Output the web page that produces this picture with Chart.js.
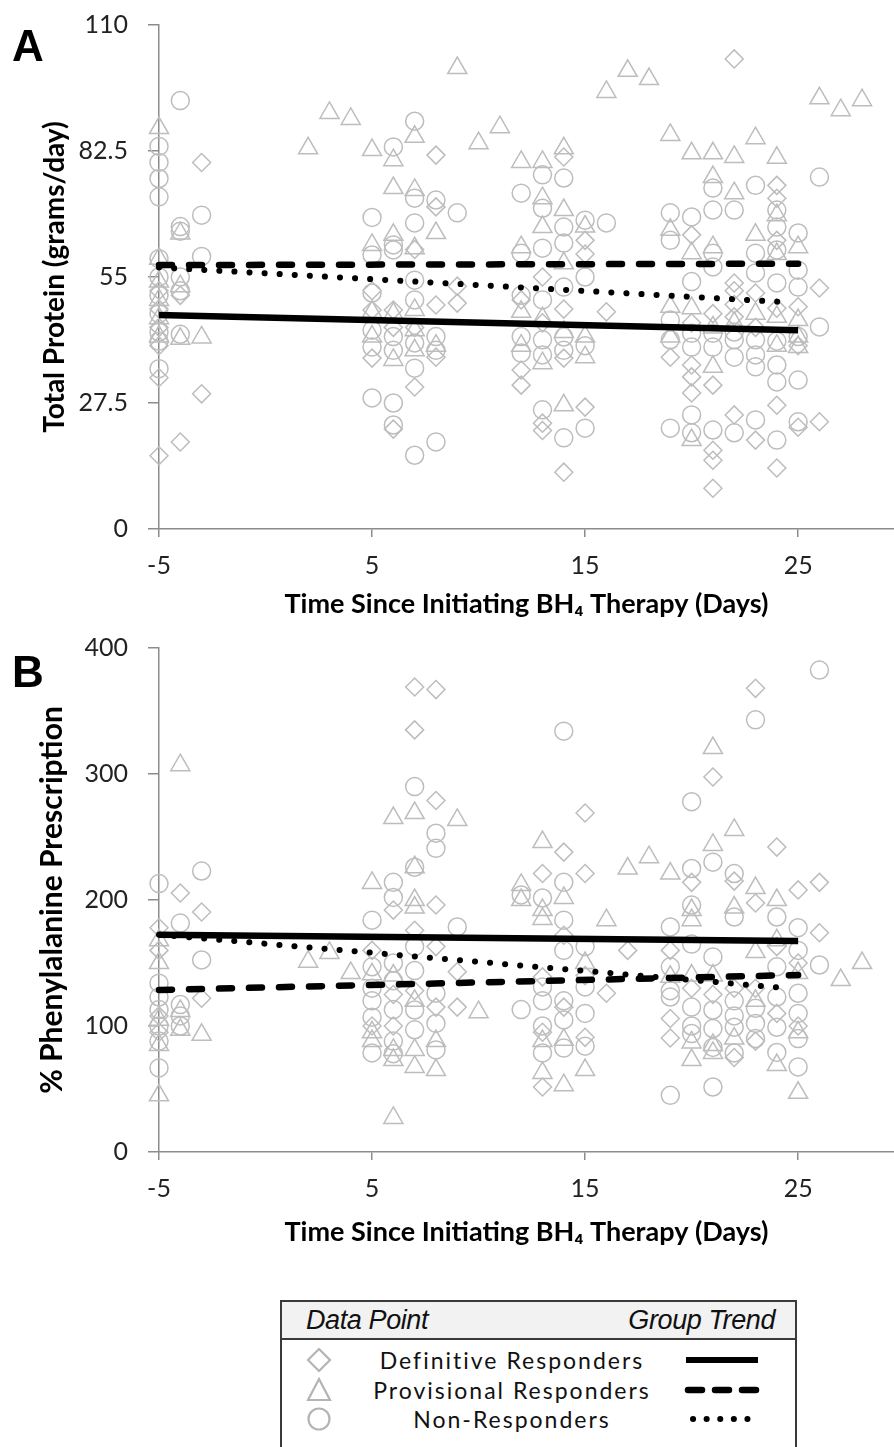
<!DOCTYPE html>
<html>
<head>
<meta charset="utf-8">
<script src="https://cdn.jsdelivr.net/npm/chart.js@4.4.1/dist/chart.umd.min.js"></script>
<style>
  body { margin: 0; width: 894px; height: 1447px; background: #fff; position: relative; overflow: hidden; }
  canvas { position: absolute; left: 0; }
  #chartA { top: 0; }
  #chartB { top: 620px; }
  .panel { position: absolute; left: 12px; font: bold 44px "Liberation Sans", Arial, sans-serif; line-height: 44px; color: #000; }
  #legend { position: absolute; left: 280px; top: 1300px; width: 513px; height: 160px; border: 2px solid #3a3a3a; font-family: Lato, sans-serif; }
  #legend .head { height: 36px; border-bottom: 2px solid #3a3a3a; background: #f2f2f2; position: relative;
    font: italic 27px "Liberation Sans", Arial, sans-serif; letter-spacing: -0.4px; color: #111; }
  #legend .head span { position: absolute; top: 3px; }
  #legend .row { position: absolute; left: 0; width: 513px; height: 30px; }
  #legend .row svg { position: absolute; top: 0; }
  #legend .lbl { position: absolute; left: 60px; width: 340px; text-align: center; top: 1px; font-size: 23px; letter-spacing: 2px; color: #111; }
</style>
</head>
<body>
<canvas id="chartA" width="894" height="620"></canvas>
<canvas id="chartB" width="894" height="640"></canvas>
<div class="panel" style="top:24px">A</div>
<div class="panel" style="top:650px">B</div>

<div id="legend">
  <div class="head"><span style="left:24px">Data Point</span><span style="right:20px">Group Trend</span></div>
  <div class="row" style="top:43px">
    <svg width="513" height="30"><path d="M37 4 L48 15 L37 26 L26 15 Z" fill="none" stroke="#b4b4b4" stroke-width="2.2"/>
      <line x1="404" y1="15" x2="476" y2="15" stroke="#000" stroke-width="6"/></svg>
    <span class="lbl">Definitive Responders</span>
  </div>
  <div class="row" style="top:73px">
    <svg width="513" height="30"><path d="M37 4 L48 25 L26 25 Z" fill="none" stroke="#b4b4b4" stroke-width="2.2"/>
      <line x1="406" y1="15" x2="480" y2="15" stroke="#000" stroke-width="6.5" stroke-dasharray="14 13" stroke-linecap="round"/></svg>
    <span class="lbl">Provisional Responders</span>
  </div>
  <div class="row" style="top:102px">
    <svg width="513" height="30"><circle cx="37" cy="15" r="10.5" fill="none" stroke="#b4b4b4" stroke-width="2.2"/>
      <line x1="411" y1="15" x2="472" y2="15" stroke="#000" stroke-width="6" stroke-dasharray="0.1 13.5" stroke-linecap="round"/></svg>
    <span class="lbl">Non-Responders</span>
  </div>
</div>

<script>
// days since initiating therapy, with tick labels
const dayTicks = [-5, 5, 15, 25];
const proteinTicks = [0, 27.5, 55, 82.5, 110];
const pheTicks = [0, 100, 200, 300, 400];

// panel A: total protein (g/day), [day, values]
const proteinDefinitive = [
  [-5, [16, 33, 40, 44, 48, 52]], [-4, [19, 51]], [-3, [80, 29.5]],
  [5, [47.8, 37.3, 52]], [6, [47.8, 44, 21.8]], [7, [61, 31, 44]], [8, [81.6, 70.3, 48.9, 37.5]], [9, [49.3, 53]],
  [12, [50, 34.7, 31.4]], [13, [55, 45, 23.1, 21.5]], [14, [81.2, 37.3, 12.4, 48]], [15, [63, 26.6, 60]], [16, [47.4]],
  [19, [37.5]], [20, [64.2, 35.8, 33.2, 29.7, 45]], [21, [31.4, 17.2, 15, 8.9, 47]], [22, [102.6, 53.7, 52, 46.3, 49, 24.9]],
  [23, [51.5, 19.4, 44]], [24, [75, 72.2, 63, 48.2, 27, 13.3]], [25, [48.5, 22.2, 40]], [26, [52.6, 23.4]]
];
const proteinProvisional = [
  [-5, [87.5, 59, 54, 50, 46, 42]], [-4, [64.5, 53, 41.5]], [-3, [41.8]],
  [2, [83.1]], [3, [90.8]], [4, [89.5]],
  [5, [82.7, 62, 47.4, 42]], [6, [80.5, 74.4, 64.2, 47, 36.9]], [7, [85.6, 74, 61.3, 47.8, 43.4, 39]], [8, [64.6, 40]],
  [9, [100.6]], [10, [84.2]], [11, [87.7]],
  [12, [80.1, 61.5, 47.4, 40]], [13, [80.1, 72.2, 65.9, 46, 36.2]], [14, [83.1, 69.6, 58, 43, 27]], [15, [66, 42, 37.5]],
  [16, [95.4]], [17, [100]], [18, [98.2]],
  [19, [86, 65.3, 48.5, 42]], [20, [82, 60.2, 48.2, 19.4]], [21, [82, 76.8, 61.5, 44, 35.4]], [22, [81.2, 73.3, 45]],
  [23, [85.3, 64.2, 47]], [24, [81, 68.5, 60, 46.3, 40]], [25, [61.5, 45.6, 39.7, 42]],
  [26, [94]], [27, [91.4]], [28, [93.6]]
];
const proteinNon = [
  [-5, [83.5, 80, 76.5, 72.5, 59, 55, 51, 47, 43, 41, 35]], [-4, [93.5, 66, 65, 55, 52, 42.5]], [-3, [68.5, 59.5]],
  [5, [68, 59.8, 51.5, 43.4, 39.7, 28.6]], [6, [83.4, 62, 60.9, 42, 39, 27.5, 22.7]],
  [7, [89, 72.2, 66.8, 54.3, 50, 40.6, 35.1, 16.1]], [8, [71.8, 42, 39, 19]], [9, [69]],
  [12, [73.3, 60.2, 51, 42, 38.4]], [13, [77.3, 70, 61.3, 50, 41.3, 38, 26]], [14, [76.6, 65.9, 62.4, 52.8, 41.9, 39, 19.9]],
  [15, [67.4, 55, 40, 22]], [16, [66.8]],
  [19, [69, 63, 45.6, 41.3, 22]], [20, [68.1, 54, 42.7, 39.7, 24.9, 21]], [21, [74.4, 69.6, 60.2, 57.2, 42.7, 39.7, 21.6]],
  [22, [69.6, 43, 41.3, 37.5, 21]], [23, [75, 60.2, 55.9, 41.3, 38, 35.4, 23.8]],
  [24, [69.6, 65.9, 60.9, 53.7, 41, 35.8, 32.1, 19.4]], [25, [64.6, 56.5, 52.8, 42, 32.5, 23.4]], [26, [76.8, 44.1]]
];

// panel B: % phenylalanine prescription, [day, values]
const pheDefinitive = [
  [-5, [178, 160, 108, 95]], [-4, [205.6]], [-3, [190.5, 122]],
  [5, [160, 100]], [6, [192, 125, 100]], [7, [369, 335, 176, 128]], [8, [367, 279, 196, 163, 115]], [9, [143, 115]],
  [13, [221, 139, 51.6, 95]], [14, [238, 172, 115]], [15, [269, 221, 140, 91]], [16, [126]], [17, [160]],
  [19, [106, 90.5, 160]], [20, [214, 130]], [21, [297.6, 125]], [22, [215, 130, 75]], [23, [368, 197.6, 130, 88]],
  [24, [242, 163, 110]], [25, [208, 150, 100]], [26, [214, 174]]
];
const pheProvisional = [
  [-5, [168, 150, 105, 85, 45]], [-4, [307, 112, 97]], [-3, [93]],
  [2, [151]], [3, [158]], [4, [142]],
  [5, [213.5, 141, 95, 88]], [6, [265, 140, 81, 73, 27]], [7, [269, 226, 200, 194, 120, 81, 67.5]], [8, [88, 65]],
  [9, [263.5]], [10, [111]], [12, [212, 200]],
  [13, [246, 192, 185, 88, 62.7]], [14, [201.6, 89, 53]], [15, [150, 65]], [16, [184]], [17, [225]], [18, [234]],
  [19, [221, 139]], [20, [192, 184, 140, 87, 73]], [21, [320.6, 243.7, 140, 85, 78.6]], [22, [255.6, 194, 90]],
  [23, [209.5, 158.7, 120]], [24, [200, 168, 69]], [25, [142, 95, 47]], [27, [136.5]], [28, [150]]
];
const pheNon = [
  [-5, [213, 134, 123, 113, 100, 88, 66.7]], [-4, [181.7, 117, 108, 100]], [-3, [223, 152.4]],
  [5, [184, 147, 130, 120, 107, 78.6]], [6, [214, 202, 150, 136, 113, 88, 78]], [7, [290, 226, 163, 144, 112.7, 97]],
  [8, [253, 241, 126, 102, 81]], [9, [178.6]], [12, [204, 113]],
  [13, [201.6, 131, 120, 100, 78.6]], [14, [334, 214, 184, 160, 120, 104.8, 82.5]], [15, [163, 131, 110, 84]],
  [19, [178.6, 147, 128, 123, 45]], [20, [278, 225, 196, 165, 115, 100, 94]], [21, [230, 154.8, 112.7, 98, 83, 51.6]],
  [22, [221, 186.5, 120, 108, 99, 78.6]], [23, [343, 114, 102, 90]], [24, [186.5, 147, 123, 99, 79]],
  [25, [178, 160, 126, 110, 90, 67.5]], [26, [382.5, 148.4]]
];

// group trend lines: start/end days and fitted values
const trendDays = [-5, 25];
const nonTrendDays = [-5, 24.5];
const proteinTrendDef = [46.7, 43.4];
const proteinTrendProv = [57.6, 57.9];
const proteinTrendNon = [57.1, 49.5];
const pheTrendDef = [172.5, 167.5];
const pheTrendProv = [128.6, 140.5];
const pheTrendNon = [172.5, 130];

const GREY = '#bdbdbd';
const AXIS = '#8c8c8c';

function toPoints(cols) {
  const pts = [];
  cols.forEach(([day, vals]) => vals.forEach(v => pts.push({ x: day, y: v })));
  return pts;
}

function trend(days, vals) {
  return days.map((d, i) => ({ x: d, y: vals[i] }));
}

function scatterSet(label, cols, style, radius) {
  return {
    label: label, data: toPoints(cols), order: 1, clip: false,
    pointStyle: style, pointRadius: radius, pointHoverRadius: radius,
    borderColor: GREY, backgroundColor: 'rgba(0,0,0,0)', borderWidth: 1.5, pointBorderWidth: 1.5
  };
}

function lineSet(label, data, dash, width) {
  return {
    type: 'line', label: label, data: data, order: 0, clip: false,
    borderColor: '#000', borderWidth: width, borderDash: dash,
    borderCapStyle: dash.length ? 'round' : 'butt', pointRadius: 0, fill: false, tension: 0
  };
}

function makePanel(id, cfg) {
  const ctx = document.getElementById(id).getContext('2d');
  new Chart(ctx, {
    type: 'scatter',
    data: {
      datasets: [
        lineSet('Definitive trend', trend(trendDays, cfg.trendDef), [], 6.5),
        lineSet('Provisional trend', trend(trendDays, cfg.trendProv), [13, 17], 6.5),
        lineSet('Non trend', trend(nonTrendDays, cfg.trendNon), [0.1, 15], 6),
        scatterSet('Non-Responders', cfg.non, 'circle', 9),
        scatterSet('Provisional Responders', cfg.prov, 'triangle', 11),
        scatterSet('Definitive Responders', cfg.def, 'rectRot', 9)
      ]
    },
    options: {
      responsive: false,
      animation: false,
      devicePixelRatio: 1,
      layout: { autoPadding: false, padding: { top: cfg.padTop, right: 0, bottom: 0, left: 0 } },
      plugins: { legend: { display: false }, tooltip: { enabled: false } },
      scales: {
        x: {
          type: 'linear', min: -5, max: 29.5,
          afterBuildTicks: s => { s.ticks = dayTicks.map(v => ({ value: v })); },
          afterFit: s => { s.height = cfg.xHeight; s.paddingLeft = 0; s.paddingRight = 0; },
          grid: { drawOnChartArea: false, drawTicks: true, tickLength: 8, color: AXIS, lineWidth: 1.5 },
          border: { color: AXIS, width: 1.5 },
          ticks: { font: { family: 'Lato', size: 25 }, color: '#222', padding: 14, maxRotation: 0, autoSkip: false,
                   callback: v => String(v) },
          title: { display: true, text: 'Time Since Initiating BH\u2084 Therapy (Days)', color: '#000',
                   font: { family: 'Lato', size: 27, weight: 'bold' }, padding: { top: 0, bottom: cfg.xTitlePad } }
        },
        y: {
          min: cfg.yTicks[0], max: cfg.yTicks[cfg.yTicks.length - 1],
          afterBuildTicks: s => { s.ticks = cfg.yTicks.map(v => ({ value: v })); },
          afterFit: s => { s.width = 159; s.paddingTop = 0; s.paddingBottom = 0; },
          grid: { drawOnChartArea: false, drawTicks: true, tickLength: 11, color: AXIS, lineWidth: 1.5 },
          border: { color: AXIS, width: 1.5 },
          ticks: { font: { family: 'Lato', size: 25 }, color: '#222', padding: 20, autoSkip: false,
                   callback: v => String(v) },
          title: { display: true, text: cfg.yTitle, color: '#000',
                   font: { family: 'Lato', size: cfg.yTitleSize, weight: 'bold' }, padding: { top: cfg.yTitlePad, bottom: 0 } }
        }
      }
    }
  });
}

makePanel('chartA', {
  def: proteinDefinitive, prov: proteinProvisional, non: proteinNon,
  trendDef: proteinTrendDef, trendProv: proteinTrendProv, trendNon: proteinTrendNon,
  yTicks: proteinTicks, yTitle: 'Total Protein (grams/day)', yTitleSize: 28,
  padTop: 25, xHeight: 91, xTitlePad: 0, yTitlePad: 38
});

makePanel('chartB', {
  def: pheDefinitive, prov: pheProvisional, non: pheNon,
  trendDef: pheTrendDef, trendProv: pheTrendProv, trendNon: pheTrendNon,
  yTicks: pheTicks, yTitle: '% Phenylalanine Prescription', yTitleSize: 30,
  padTop: 28, xHeight: 108, xTitlePad: 12, yTitlePad: 34
});
</script>
</body>
</html>
